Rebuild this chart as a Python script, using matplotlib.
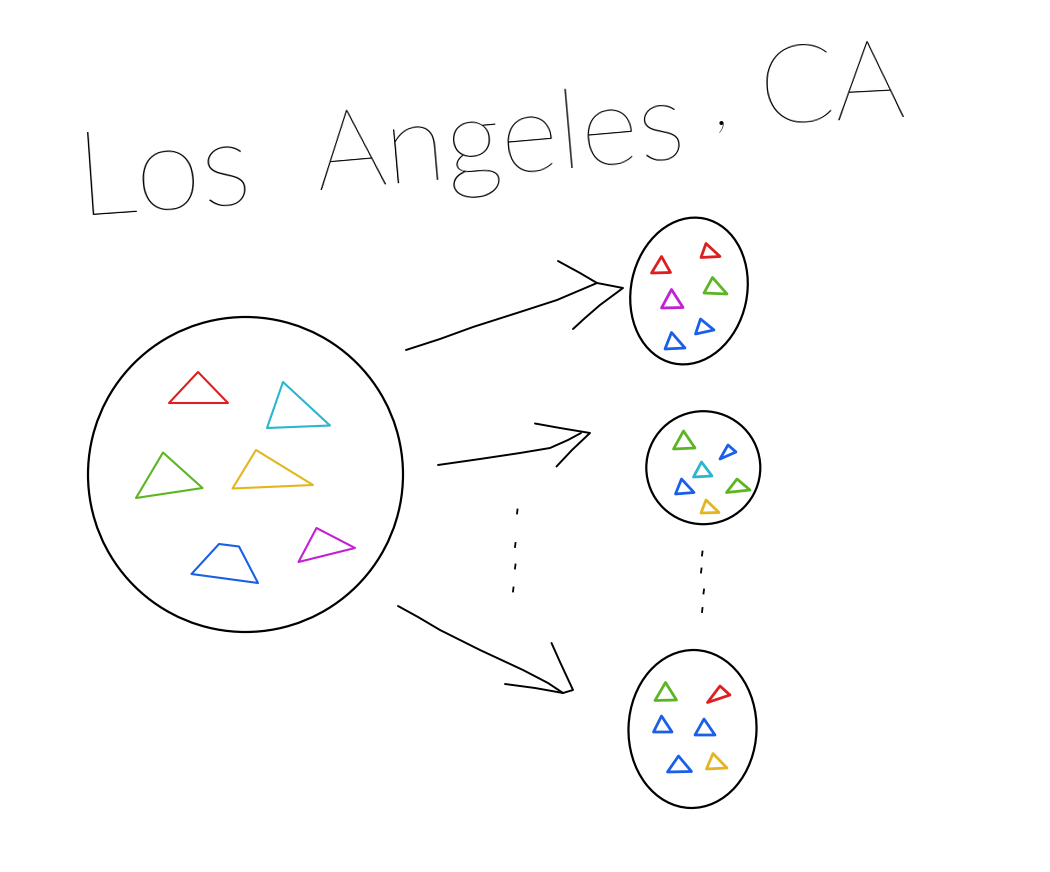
import matplotlib.pyplot as plt
import matplotlib.patches as patches

# Title words: (text, left x, baseline y, size, rotation)
title_words = ["Los", "Angeles", ",", "CA"]
title_x = [78, 318, 714, 760]
title_y = [215, 190, 124, 124]
title_size = [86, 80, 50, 80]
title_rot = [4, 5, 0, 3]

# Colour names for the little triangles
colors = {
    "red": "#dd1f1f",
    "cyan": "#2bb6d0",
    "green": "#5cb623",
    "yellow": "#e3b620",
    "blue": "#1a5fe8",
    "magenta": "#c31fd4",
}

# Containers: (center x, center y, width, height, angle)
containers = [
    (245.5, 474.5, 315, 315, 0),
    (689, 291, 116, 148, 12),
    (703.3, 467.7, 114, 113, 0),
    (692.5, 729, 128, 158, 2),
]

# Shapes inside the big circle
big_shapes = [
    ("red", [(198, 372), (169, 403), (228, 403)]),
    ("cyan", [(283, 382), (267, 428), (330, 425.5)]),
    ("green", [(163, 452.5), (136, 498), (202.5, 488)]),
    ("yellow", [(256, 450), (232.5, 488.5), (313, 485)]),
    ("blue", [(219, 544), (239, 546.5), (258, 583), (191.5, 574)]),
    ("magenta", [(316.5, 528), (355, 548), (298.5, 562)]),
]

# Shapes inside the three samples
sample_shapes = [
    ("red", [(661.5, 256.5), (651.5, 273), (670.5, 272.5)]),
    ("red", [(706, 243.5), (701, 257.5), (720, 256.5)]),
    ("magenta", [(671.5, 289.5), (661.5, 308), (683, 307.5)]),
    ("green", [(712.5, 277.5), (704, 293), (727, 294)]),
    ("blue", [(671.5, 332.5), (665, 349), (685, 348)]),
    ("blue", [(700.5, 319), (695.5, 334), (714, 330)]),

    ("green", [(683.5, 431), (673.5, 449), (695, 448)]),
    ("blue", [(728, 445), (720, 459), (736, 452)]),
    ("cyan", [(701.5, 462), (693.5, 477), (712, 476)]),
    ("blue", [(681.5, 479), (675.5, 494), (694, 492.5)]),
    ("green", [(737, 479), (726.5, 492.5), (750, 490)]),
    ("yellow", [(706, 500), (701, 513), (719, 512.5)]),

    ("green", [(665.5, 682.5), (655, 700.5), (676.5, 700)]),
    ("red", [(720, 686), (707.5, 702.5), (730, 695)]),
    ("blue", [(661.5, 716), (653.5, 732), (672, 732)]),
    ("blue", [(704, 719), (695, 735), (715, 735)]),
    ("blue", [(678.5, 756), (667.5, 772), (691.5, 771.5)]),
    ("yellow", [(713, 753.5), (706.5, 769), (727, 768)]),
]

# Hand drawn arrows: shaft and head strokes
arrow_shafts = [
    [(406, 350), (440, 339), (473, 327), (520, 312), (557, 300), (597, 283)],
    [(438, 465), (480, 459), (520, 453), (550, 448), (568, 440), (581, 433)],
    [(398, 606), (418, 617), (440, 630), (480, 650), (523, 670), (548, 683), (563, 693)],
]
arrow_heads = [
    [(558, 261), (580, 273), (597, 283), (623, 288), (600, 305), (585, 318), (573, 329)],
    [(535, 423.5), (560, 428), (590, 433), (572, 450), (556.5, 466.5)],
    [(551.5, 643), (560, 662), (573, 690), (563, 693), (535, 688), (505, 684)],
]

# "..." marks between the arrows and between samples
dots_x = [[517.5, 515.5, 515.5, 513.5], [702.5, 701.5, 704, 702.5]]
dots_y = [[511.5, 545, 566.5, 589.5], [553.5, 570.5, 591.5, 610]]

fig = plt.figure(figsize=(10.5, 8.72), dpi=100)
ax = fig.add_axes([0, 0, 1, 1])
ax.set_xlim(0, 1050)
ax.set_ylim(872, 0)
ax.axis("off")

for word, x, y, s, r in zip(title_words, title_x, title_y, title_size, title_rot):
    ax.text(x, y, word, fontsize=s, rotation=r, rotation_mode="anchor",
            ha="left", va="baseline", color="black",
            family=["Lato", "DejaVu Sans"], fontweight="ultralight")

for cx, cy, w, h, ang in containers:
    ax.add_patch(patches.Ellipse((cx, cy), w, h, angle=ang, fill=False,
                                 edgecolor="black", linewidth=1.6))

for name, pts in big_shapes:
    ax.add_patch(patches.Polygon(pts, closed=True, fill=False,
                                 edgecolor=colors[name], linewidth=1.5,
                                 joinstyle="round"))
for name, pts in sample_shapes:
    ax.add_patch(patches.Polygon(pts, closed=True, fill=False,
                                 edgecolor=colors[name], linewidth=2.0,
                                 joinstyle="round"))

for shaft, head in zip(arrow_shafts, arrow_heads):
    ax.plot(*zip(*shaft), color="black", linewidth=1.4, solid_capstyle="round")
    ax.plot(*zip(*head), color="black", linewidth=1.4, solid_capstyle="round",
            solid_joinstyle="round")

for xs, ys in zip(dots_x, dots_y):
    for x, y in zip(xs, ys):
        ax.plot([x, x - 0.5], [y - 2, y + 2], color="black", linewidth=1.3)

fig.savefig("out.png", dpi=100, facecolor="white")
